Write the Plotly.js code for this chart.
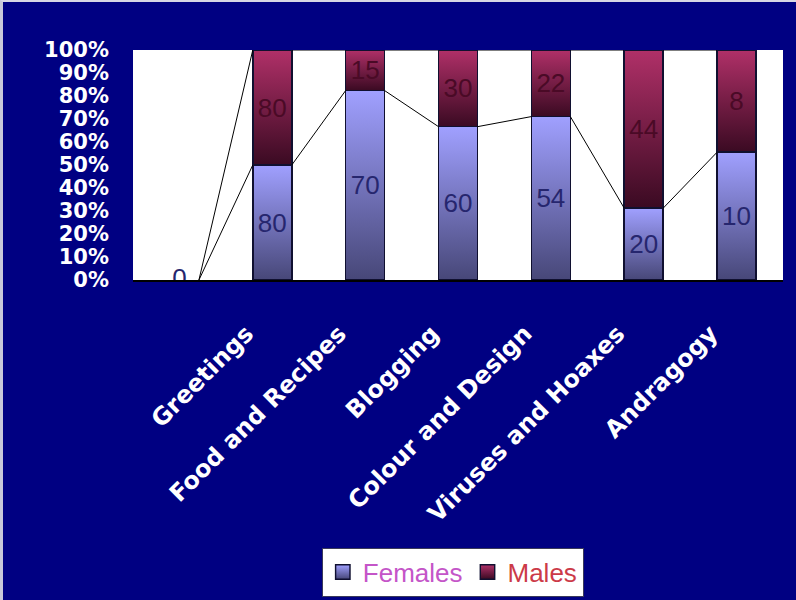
<!DOCTYPE html>
<html>
<head>
<meta charset="utf-8">
<script src="https://cdn.plot.ly/plotly-3.0.1.min.js"></script>
<style>
  html, body { margin: 0; padding: 0; background: #000082; }
  #chart { width: 796px; height: 600px; }
  #edge { position: absolute; left: 0; top: 0; width: 796px; height: 600px;
          border-left: 3px solid #c8c8da; border-top: 2px solid #d6d6e4;
          box-sizing: border-box; pointer-events: none; }
</style>
</head>
<body>
<div id="chart"></div>
<div id="edge"></div>
<script>
// Topic interest by gender (first slot is an empty row of the table)
const categories = ['', 'Greetings', 'Food and Recipes', 'Blogging', 'Colour and Design', 'Viruses and Hoaxes', 'Andragogy'];
const females = [0, 80, 70, 60, 54, 20, 10];
const males   = [0, 80, 15, 30, 22, 44, 8];
const yTickValues = [0, 10, 20, 30, 40, 50, 60, 70, 80, 90, 100];
const yTickLabels = ['0%', '10%', '20%', '30%', '40%', '50%', '60%', '70%', '80%', '90%', '100%'];

// 100% stacking: each column is scaled to its own total
const totals = females.map((f, i) => f + males[i]);
const femalePct = females.map((f, i) => totals[i] ? f / totals[i] * 100 : 0);
const malePct = males.map((m, i) => totals[i] ? m / totals[i] * 100 : 0);
const xPos = categories.map((_, i) => i);

const BARGAP = 0.58;
const HALF = (1 - BARGAP) / 2;

// Series lines join the top of each segment to the same segment in the next column
function seriesLine(levels) {
  const xs = [], ys = [];
  for (let i = 0; i < levels.length - 1; i++) {
    xs.push(i + HALF, i + 1 - HALF, null);
    ys.push(levels[i], levels[i + 1], null);
  }
  return { xs, ys };
}
const femaleTop = femalePct;
const maleTop = femalePct.map((v, i) => v + malePct[i]);
const femaleLine = seriesLine(femaleTop);
const maleLine = seriesLine(maleTop);

const labelFont = { family: 'Liberation Sans, Arial, sans-serif', size: 26 };
// empty columns get no outline
const outlineWidths = totals.map(t => t ? 1.5 : 0);
const OUTLINE = '#101030';

const data = [
  {
    type: 'bar', x: xPos, y: femalePct,
    name: '<span style="color:#c455c8">Females</span>',
    text: females.map(v => v ? String(v) : ''),
    texttemplate: '%{text}', textposition: 'inside', insidetextanchor: 'middle',
    textangle: 0, constraintext: 'none',
    textfont: Object.assign({ color: '#26266e' }, labelFont),
    marker: { color: '#8c8ce0', line: { color: OUTLINE, width: outlineWidths } },
    hoverinfo: 'skip'
  },
  {
    type: 'bar', x: xPos, y: malePct,
    name: '<span style="color:#cc3a48">Males</span>',
    text: males.map(v => v ? String(v) : ''),
    texttemplate: '%{text}', textposition: 'inside', insidetextanchor: 'middle',
    textangle: 0, constraintext: 'none',
    textfont: Object.assign({ color: '#4a0a26' }, labelFont),
    marker: { color: '#8a2050', line: { color: OUTLINE, width: outlineWidths } },
    hoverinfo: 'skip'
  },
  {
    type: 'scatter', mode: 'text', x: [xPos[0]], y: [femalePct[0]],
    text: [String(females[0])], textposition: 'middle center',
    textfont: Object.assign({ color: '#26266e' }, labelFont),
    showlegend: false, hoverinfo: 'skip'
  },
  {
    type: 'scatter', mode: 'lines', x: femaleLine.xs, y: femaleLine.ys,
    line: { color: '#000000', width: 1 }, connectgaps: false,
    showlegend: false, hoverinfo: 'skip'
  },
  {
    type: 'scatter', mode: 'lines', x: maleLine.xs, y: maleLine.ys,
    line: { color: '#000000', width: 1 }, connectgaps: false,
    showlegend: false, hoverinfo: 'skip'
  }
];

const layout = {
  width: 796, height: 600,
  margin: { l: 133, r: 13, t: 50, b: 320, pad: 0, autoexpand: false },
  paper_bgcolor: '#000082',
  plot_bgcolor: '#ffffff',
  barmode: 'stack',
  bargap: BARGAP,
  showlegend: true,
  xaxis: {
    range: [-0.5, categories.length - 0.5],
    tickmode: 'array', tickvals: xPos, ticktext: categories,
    tickangle: -45,
    tickfont: { family: 'DejaVu Sans, sans-serif', size: 24, color: '#ffffff', weight: 'bold' },
    ticklabelstandoff: 28, ticklabelshift: -26,
    showline: true, linecolor: '#000000', linewidth: 2,
    ticks: '', showgrid: false, zeroline: false, automargin: false, fixedrange: true
  },
  yaxis: {
    range: [0, 100],
    tickmode: 'array', tickvals: yTickValues, ticktext: yTickLabels,
    tickfont: { family: 'DejaVu Sans, sans-serif', size: 21, color: '#ffffff', weight: 'bold' },
    ticklabelstandoff: 23,
    showline: false, ticks: '', showgrid: false, zeroline: false, automargin: false, fixedrange: true
  },
  legend: {
    orientation: 'h', x: 0.492, y: -1.27, xanchor: 'center', yanchor: 'middle',
    bgcolor: '#ffffff', bordercolor: '#3a3a5a', borderwidth: 1,
    font: { family: 'Liberation Sans, Arial, sans-serif', size: 26, color: '#c455c8' },
    traceorder: 'normal', itemclick: false, itemdoubleclick: false
  }
};

function addGradient(defs, id, top, bottom) {
  const ns = 'http://www.w3.org/2000/svg';
  const g = document.createElementNS(ns, 'linearGradient');
  g.setAttribute('id', id);
  g.setAttribute('x1', '0'); g.setAttribute('y1', '0');
  g.setAttribute('x2', '0'); g.setAttribute('y2', '1');
  [[0, top], [1, bottom]].forEach(([off, col]) => {
    const s = document.createElementNS(ns, 'stop');
    s.setAttribute('offset', off);
    s.setAttribute('stop-color', col);
    g.appendChild(s);
  });
  defs.appendChild(g);
}

Plotly.newPlot('chart', data, layout, { staticPlot: true }).then(gd => {
  const svg = gd.querySelector('.main-svg');
  let defs = svg.querySelector('defs');
  if (!defs) { defs = document.createElementNS('http://www.w3.org/2000/svg', 'defs'); svg.prepend(defs); }
  addGradient(defs, 'fillFemales', '#a0a0ff', '#474778');
  addGradient(defs, 'fillMales', '#b03068', '#3a0a22');
  const fills = ['url(#fillFemales)', 'url(#fillMales)'];
  gd.querySelectorAll('.barlayer .trace').forEach((tr, i) => {
    tr.querySelectorAll('path').forEach(p => { p.style.fill = fills[i]; });
  });
  // legend swatches: gradient fill, dark outline, slightly larger square
  gd.querySelectorAll('.legend .traces').forEach((tr, i) => {
    tr.querySelectorAll('.legendpoints path').forEach(p => {
      p.style.fill = fills[i];
      p.style.stroke = OUTLINE;
      p.style.strokeWidth = '1.2px';
      const t = p.getAttribute('transform') || '';
      p.setAttribute('transform', t + ' scale(1.2)');
    });
  });
});
</script>
</body>
</html>
